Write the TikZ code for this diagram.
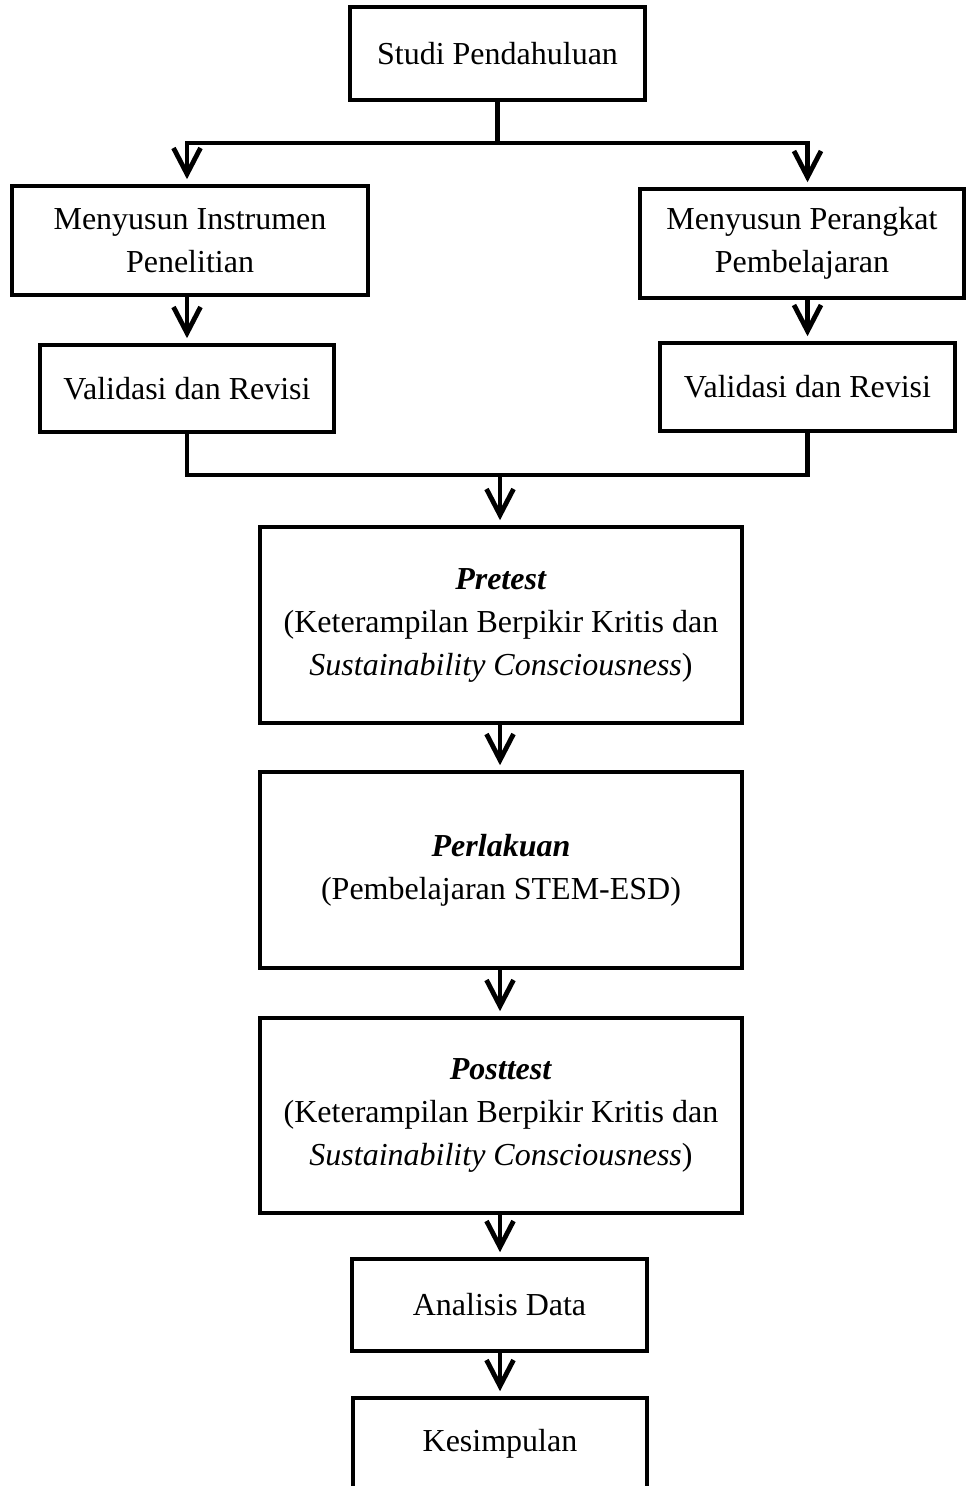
\documentclass[tikz,border=0pt]{standalone}
\usepackage{fontspec}
\setmainfont{Liberation Serif}
\usetikzlibrary{arrows.meta, positioning, calc}

\tikzset{
  box/.style={draw, line width=1.8pt, align=center, inner sep=0pt,
    font=\fontsize{16}{21.5}\selectfont},
  arr/.style={line width=2.4pt, -{Straight Barb[length=13pt, width=13.5pt]}, shorten >=2.5pt},
  link/.style={line width=2.4pt}
}

\begin{document}
\begin{tikzpicture}[x=0.5pt, y=-0.5pt]
\clip (0,0) rectangle (967,1486);
\useasboundingbox (0,0) rectangle (967,1486);

% sizes are in pt, one pt being two pixels of the page
\node [box, minimum width=147.5pt, minimum height=46.5pt] (studi) at (497.5,53.5) {Studi Pendahuluan};
\node [box, minimum width=178pt, minimum height=54.5pt] (instrumen) at (190,240.5) {Menyusun Instrumen\\Penelitian};
\node [box, minimum width=162pt, minimum height=54.5pt] (perangkat) at (802,243.5) {Menyusun Perangkat\\Pembelajaran};
\node [box, minimum width=147pt, minimum height=43.5pt] (validA) at (187,388.5) {Validasi dan Revisi};
\node [box, minimum width=147.5pt, minimum height=44pt] (validB) at (807.5,387) {Validasi dan Revisi};
\node [box, minimum width=241pt, minimum height=98pt] (pretest) at (501,625) {\textbf{\textit{Pretest}}\\(Keterampilan Berpikir Kritis dan\\\textit{Sustainability Consciousness})};
\node [box, minimum width=241pt, minimum height=98pt] (perlakuan) at (501,870) {\textbf{\textit{Perlakuan}}\\(Pembelajaran STEM-ESD)};
\node [box, minimum width=241pt, minimum height=97.5pt] (posttest) at (501,1115.5) {\textbf{\textit{Posttest}}\\(Keterampilan Berpikir Kritis dan\\\textit{Sustainability Consciousness})};
\node [box, minimum width=147.5pt, minimum height=46pt] (analisis) at (499.5,1305) {Analisis Data};
\node [box, minimum width=147pt, minimum height=46pt] (kesimpulan) at (500,1444) {Kesimpulan};

\coordinate (split) at (497.5,143);
\coordinate (merge) at (500,475);

\draw [link] (studi.south) -- (split);
\draw [arr] (split) -| (validA.north |- instrumen.north);
\draw [arr] (split) -| (validB.north |- perangkat.north);
\draw [arr] (validA.north |- instrumen.south) -- (validA.north);
\draw [arr] (validB.north |- perangkat.south) -- (validB.north);
\draw [link] (validA.south) -- (validA.south |- merge) -- (validB.south |- merge) -- (validB.south);
\draw [arr] (merge) -- (merge |- pretest.north);
\draw [arr] (pretest.south -| merge) -- (perlakuan.north -| merge);
\draw [arr] (perlakuan.south -| merge) -- (posttest.north -| merge);
\draw [arr] (posttest.south -| merge) -- (analisis.north -| merge);
\draw [arr] (analisis.south -| merge) -- (kesimpulan.north -| merge);
\end{tikzpicture}
\end{document}
